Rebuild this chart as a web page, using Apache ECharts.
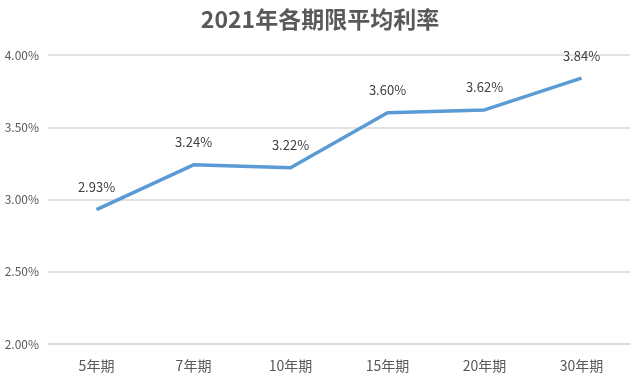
<!DOCTYPE html>
<html><head><meta charset="utf-8">
<script src="https://cdn.jsdelivr.net/npm/echarts@6/dist/echarts.min.js"></script>
<style>html,body{margin:0;padding:0;background:#fff}#c{width:640px;height:392px}</style>
</head><body><div id="c"></div>
<script>
const titleText = '2021年各期限平均利率';
const categories = ['5年期','7年期','10年期','15年期','20年期','30年期'];
const rates = [2.93, 3.24, 3.22, 3.60, 3.62, 3.84];
const yMin = 2.0, yMax = 4.0, yStep = 0.5;

const chart = echarts.init(document.getElementById('c'));
const font = '"Noto Sans CJK SC", "Noto Sans", sans-serif';
chart.setOption({
  animation: false,
  backgroundColor: '#fff',
  title: {
    text: titleText, left: 'center', top: 3,
    textStyle: { fontFamily: font, fontSize: 23, fontWeight: 'bold', color: '#595959' }
  },
  grid: { left: 48, right: 10, top: 55, bottom: 48, containLabel: false },
  xAxis: {
    type: 'category', data: categories, boundaryGap: true,
    axisLine: { show: true, lineStyle: { color: '#d9d9d9', width: 1.5 } },
    axisTick: { show: false },
    axisLabel: { fontFamily: font, fontSize: 14, color: '#595959', margin: 15 }
  },
  yAxis: {
    type: 'value', min: yMin, max: yMax, interval: yStep,
    axisLine: { show: false }, axisTick: { show: false },
    splitLine: { lineStyle: { color: '#d9d9d9', width: 1.5 } },
    axisLabel: { fontFamily: font, fontSize: 12, color: '#595959', margin: 9,
      formatter: v => v.toFixed(2) + '%' }
  },
  series: [{
    type: 'line', data: rates, showSymbol: true, showAllSymbol: true, symbol: 'circle', symbolSize: 2,
    itemStyle: { color: 'rgba(91,155,213,0)', borderWidth: 0 },
    lineStyle: { color: '#5B9BD5', width: 3.5 },
    label: { show: true, position: 'top', distance: 15, fontFamily: font, fontSize: 13,
      color: '#404040', opacity: 1, formatter: p => p.value.toFixed(2) + '%' }
  }]
});
</script></body></html>
